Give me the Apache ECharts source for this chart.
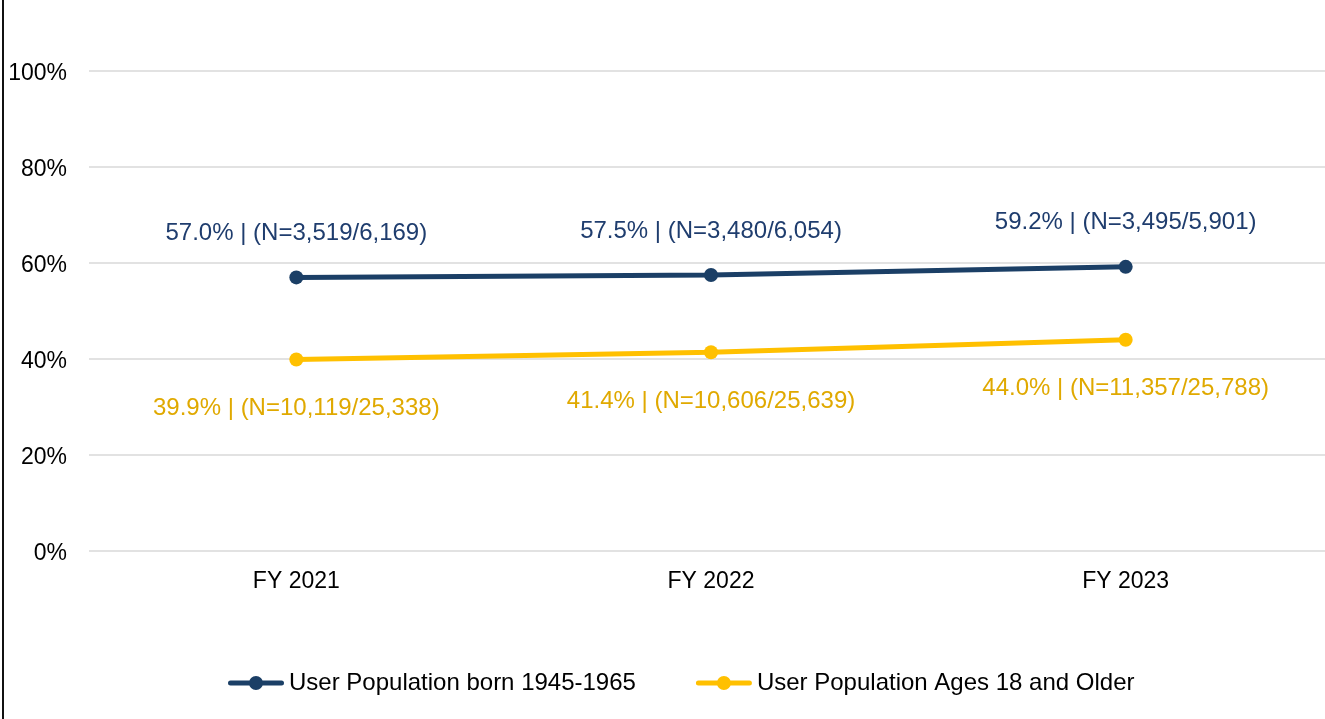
<!DOCTYPE html>
<html>
<head>
<meta charset="utf-8">
<script src="https://cdn.jsdelivr.net/npm/echarts@6/dist/echarts.min.js"></script>
<style>
  html, body { margin: 0; padding: 0; background: #fff; overflow: hidden; }
  /* The plot runs slightly past the right edge of the window */
  #chart { width: 1333px; height: 719px; }
</style>
</head>
<body>
<div id="chart"></div>
<script>
// Fiscal years on the x axis
const categories = ['FY 2021', 'FY 2022', 'FY 2023'];

// Share of users (percent) and the counts behind each share
const born1945to1965 = [57.0, 57.5, 59.2];
const born1945to1965Counts = ['3,519/6,169', '3,480/6,054', '3,495/5,901'];

const ages18Plus = [39.9, 41.4, 44.0];
const ages18PlusCounts = ['10,119/25,338', '10,606/25,639', '11,357/25,788'];

const yTicks = { min: 0, max: 100, interval: 20 };

const seriesNames = ['User Population born 1945-1965', 'User Population Ages 18 and Older'];

const FONT = 'Liberation Sans, Arial, sans-serif';
const NAVY = '#1B3F66';
const NAVY_TEXT = '#1F3D6E';
const GOLD = '#FFC000';
const GOLD_TEXT = '#E0A900';

// Legend marker: thick round-capped line with a dot in the middle (56 x 14)
const LEGEND_ICON = 'path://M2.5,4.5 L53.5,4.5 A2.5,2.5 0 0 1 53.5,9.5 L2.5,9.5 A2.5,2.5 0 0 1 2.5,4.5 Z ' +
  'M21,7 A7,7 0 1 1 35,7 A7,7 0 1 1 21,7 Z';

function labelFor(counts) {
  return p => p.value.toFixed(1) + '% | (N=' + counts[p.dataIndex] + ')';
}

const chart = echarts.init(document.getElementById('chart'), null, { renderer: 'canvas' });

chart.setOption({
  animation: false,
  backgroundColor: '#fff',
  textStyle: { fontFamily: FONT },
  grid: { left: 89, right: 0, top: 71, bottom: 168, containLabel: false },
  xAxis: {
    type: 'category',
    data: categories,
    boundaryGap: true,
    axisLine: { show: false },
    axisTick: { show: false },
    axisLabel: { color: '#000', fontSize: 23, fontFamily: FONT, margin: 19 }
  },
  yAxis: {
    type: 'value',
    min: yTicks.min,
    max: yTicks.max,
    interval: yTicks.interval,
    axisLine: { show: false },
    axisTick: { show: false },
    axisLabel: {
      color: '#000', fontSize: 23, fontFamily: FONT, margin: 22,
      verticalAlign: 'top',
      lineHeight: 6,
      formatter: '{value}%'
    },
    splitLine: { lineStyle: { color: '#d9d9d9', width: 1.5 } }
  },
  legend: {
    left: 223,
    top: 666,
    itemWidth: 56,
    itemHeight: 14,
    itemGap: 60,
    icon: LEGEND_ICON,
    itemStyle: { borderWidth: 0 },
    textStyle: { color: '#000', fontSize: 24, fontFamily: FONT },
    data: seriesNames
  },
  series: [
    {
      name: seriesNames[0],
      type: 'line',
      data: born1945to1965,
      symbol: 'circle',
      symbolSize: 14,
      lineStyle: { color: NAVY, width: 5 },
      itemStyle: { color: NAVY },
      label: {
        show: true,
        position: 'top',
        distance: 25,
        color: NAVY_TEXT,
        fontSize: 24,
        fontFamily: FONT,
        formatter: labelFor(born1945to1965Counts)
      }
    },
    {
      name: seriesNames[1],
      type: 'line',
      data: ages18Plus,
      symbol: 'circle',
      symbolSize: 14,
      lineStyle: { color: GOLD, width: 5 },
      itemStyle: { color: GOLD },
      label: {
        show: true,
        position: 'bottom',
        distance: 30,
        color: GOLD_TEXT,
        fontSize: 24,
        fontFamily: FONT,
        formatter: labelFor(ages18PlusCounts)
      }
    }
  ],
  graphic: [
    {
      type: 'line',
      shape: { x1: 3, y1: 0, x2: 3, y2: 719 },
      style: { stroke: '#111', lineWidth: 2 }
    }
  ]
});
</script>
</body>
</html>
